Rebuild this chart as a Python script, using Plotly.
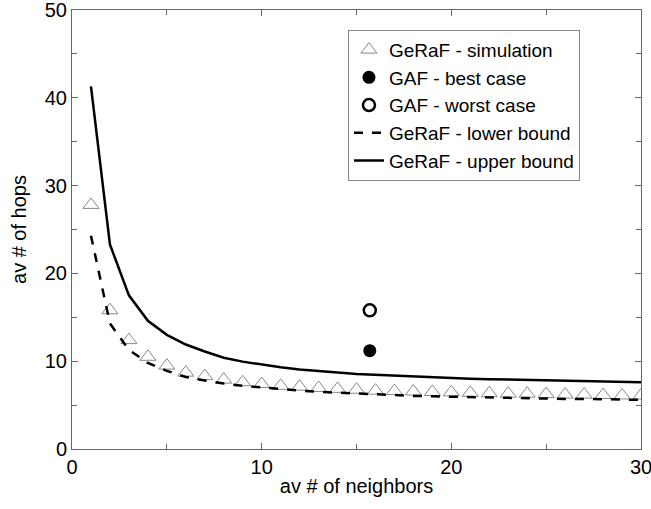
import plotly.graph_objects as go

x_nb = list(range(1, 31))
sim = [27.8, 15.8, 12.4, 10.5, 9.5, 8.7, 8.3, 7.9, 7.6, 7.4, 7.2, 7.1, 6.95, 6.85, 6.75,
       6.65, 6.6, 6.55, 6.5, 6.45, 6.4, 6.35, 6.3, 6.3, 6.25, 6.2, 6.2, 6.15, 6.1, 6.1]
upper = [41.3, 23.3, 17.5, 14.6, 13.0, 11.9, 11.1, 10.4, 9.95, 9.6, 9.3, 9.05, 8.85, 8.7, 8.55,
         8.45, 8.35, 8.25, 8.15, 8.1, 8.0, 7.95, 7.9, 7.85, 7.8, 7.75, 7.7, 7.7, 7.65, 7.6]
lower = [24.3, 14.3, 11.3, 9.8, 8.9, 8.2, 7.8, 7.45, 7.2, 7.0, 6.8, 6.65, 6.5, 6.4, 6.3,
         6.2, 6.15, 6.05, 6.0, 5.95, 5.9, 5.85, 5.8, 5.8, 5.75, 5.7, 5.7, 5.65, 5.6, 5.6]
gaf_x = [15.7]
gaf_best = [11.2]
gaf_worst = [15.8]

FONT = "Liberation Sans, Arial, sans-serif"

fig = go.Figure()
fig.add_trace(go.Scatter(x=x_nb, y=sim, mode="markers", name="GeRaF - simulation",
                         marker=dict(symbol="triangle-up-open", size=14, color="#888",
                                     line=dict(width=1, color="#888"))))
fig.add_trace(go.Scatter(x=gaf_x, y=gaf_best, mode="markers", name="GAF - best case",
                         marker=dict(symbol="circle", size=13, color="black")))
fig.add_trace(go.Scatter(x=gaf_x, y=gaf_worst, mode="markers", name="GAF - worst case",
                         marker=dict(symbol="circle-open", size=12, color="black",
                                     line=dict(width=2.5, color="black"))))
fig.add_trace(go.Scatter(x=x_nb, y=lower, mode="lines", name="GeRaF - lower bound",
                         line=dict(color="black", width=2.5, dash="dash")))
fig.add_trace(go.Scatter(x=x_nb, y=upper, mode="lines", name="GeRaF - upper bound",
                         line=dict(color="black", width=2.5)))

axis_common = dict(showgrid=False, zeroline=False, showline=True, linecolor="#666",
                   linewidth=1, mirror="ticks", ticks="inside", ticklen=6, tickcolor="#666",
                   ticklabeloverflow="allow", automargin=False,
                   tickfont=dict(family=FONT, size=20, color="black"),
                   title_font=dict(family=FONT, size=20, color="black"))

fig.update_xaxes(range=[0, 30], dtick=10, title_text="av # of neighbors", title_standoff=1,
                 minor=dict(dtick=5, ticks="inside", ticklen=5, tickcolor="#666"), **axis_common)
fig.update_yaxes(range=[0, 50], dtick=10, title_text="av # of hops", title_standoff=12,
                 minor=dict(dtick=5, ticks="inside", ticklen=5, tickcolor="#666"), **axis_common)

fig.update_layout(
    width=651, height=509,
    margin=dict(l=72, r=10, t=10, b=60),
    plot_bgcolor="white", paper_bgcolor="white",
    showlegend=True,
    legend=dict(x=0.485, y=0.955, xanchor="left", yanchor="top",
                bordercolor="#888", borderwidth=1, bgcolor="white",
                font=dict(family=FONT, size=19, color="black"),
                tracegroupgap=0, itemwidth=30),
)

fig.write_html("out.html")
